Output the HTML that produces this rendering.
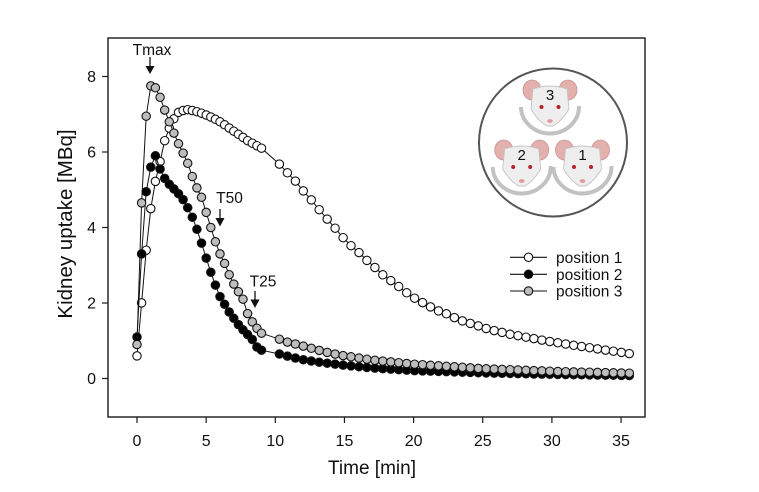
<!DOCTYPE html>
<html>
<head>
<meta charset="utf-8">
<style>
  html,body{margin:0;padding:0;background:#fff;}
  svg{display:block;}
  text{font-family:"Liberation Sans",Arial,sans-serif;fill:#111;}
</style>
</head>
<body>
<svg id="s" width="759" height="492" viewBox="0 0 759 492" xmlns="http://www.w3.org/2000/svg">
  <rect x="0" y="0" width="759" height="492" fill="#fff"/>
  <!-- frame -->
  <rect x="108" y="38" width="537" height="379" fill="none" stroke="#1a1a1a" stroke-width="1.4"/>
  <!-- x ticks -->
  <g stroke="#1a1a1a" stroke-width="1.2">
    <line x1="137" y1="417" x2="137" y2="423"/>
    <line x1="206.15" y1="417" x2="206.15" y2="423"/>
    <line x1="275.3" y1="417" x2="275.3" y2="423"/>
    <line x1="344.45" y1="417" x2="344.45" y2="423"/>
    <line x1="413.6" y1="417" x2="413.6" y2="423"/>
    <line x1="482.75" y1="417" x2="482.75" y2="423"/>
    <line x1="551.9" y1="417" x2="551.9" y2="423"/>
    <line x1="621.05" y1="417" x2="621.05" y2="423"/>
    <!-- y ticks -->
    <line x1="102" y1="378.5" x2="108" y2="378.5"/>
    <line x1="102" y1="303" x2="108" y2="303"/>
    <line x1="102" y1="227.5" x2="108" y2="227.5"/>
    <line x1="102" y1="152" x2="108" y2="152"/>
    <line x1="102" y1="76.5" x2="108" y2="76.5"/>
  </g>
  <g font-size="16" text-anchor="middle">
    <text x="137" y="446">0</text>
    <text x="206.15" y="446">5</text>
    <text x="275.3" y="446">10</text>
    <text x="344.45" y="446">15</text>
    <text x="413.6" y="446">20</text>
    <text x="482.75" y="446">25</text>
    <text x="551.9" y="446">30</text>
    <text x="621.05" y="446">35</text>
  </g>
  <g font-size="16" text-anchor="end">
    <text x="96" y="384">0</text>
    <text x="96" y="308.5">2</text>
    <text x="96" y="233">4</text>
    <text x="96" y="157.5">6</text>
    <text x="96" y="82">8</text>
  </g>
  <text x="372" y="474" font-size="19" text-anchor="middle">Time [min]</text>
  <text transform="translate(72,224) rotate(-90)" x="0" y="0" font-size="20.5" text-anchor="middle">Kidney uptake [MBq]</text>

  <!-- annotations -->
  <text x="152" y="55" font-size="15.5" text-anchor="middle">Tmax</text>
  <line x1="150" y1="57" x2="150" y2="68" stroke="#111" stroke-width="1.3"/>
  <polygon points="145.5,66 154.5,66 150,74" fill="#111"/>
  <text x="229.5" y="203" font-size="15.5" text-anchor="middle">T50</text>
  <line x1="220" y1="209" x2="220" y2="220" stroke="#111" stroke-width="1.3"/>
  <polygon points="215.5,218 224.5,218 220,226.5" fill="#111"/>
  <text x="263" y="286.5" font-size="15.5" text-anchor="middle">T25</text>
  <line x1="255" y1="291" x2="255" y2="301" stroke="#111" stroke-width="1.3"/>
  <polygon points="250.5,299.5 259.5,299.5 255,308" fill="#111"/>

  <!-- mice -->
  <circle cx="553" cy="142.5" r="74" fill="#fff" stroke="#555" stroke-width="2"/>
  <g id="mice"></g>

  <!-- legend -->
  <g stroke="#111" stroke-width="1.1">
    <line x1="510" y1="257.3" x2="547" y2="257.3"/>
    <line x1="510" y1="274.3" x2="547" y2="274.3"/>
    <line x1="510" y1="291" x2="547" y2="291"/>
    <circle cx="528.5" cy="257.3" r="4.2" fill="#fff"/>
    <circle cx="528.5" cy="274.3" r="4.2" fill="#000"/>
    <circle cx="528.5" cy="291" r="4.2" fill="#bdbdbd"/>
  </g>
  <g font-size="15.5">
    <text x="556" y="262.8">position 1</text>
    <text x="556" y="279.8">position 2</text>
    <text x="556" y="296.5">position 3</text>
  </g>

  <g id="series"></g>
</svg>
<script>
(function(){
  var NS="http://www.w3.org/2000/svg";
  function el(tag,attrs,parent){var e=document.createElementNS(NS,tag);for(var k in attrs)e.setAttribute(k,attrs[k]);parent.appendChild(e);return e;}
  var X=function(t){return 137+t*13.83;}, Y=function(v){return 378.5-v*37.75;};
  function interp(a,t){
    if(t<=a[0][0])return a[0][1];
    for(var i=0;i<a.length-1;i++){
      if(t>=a[i][0]&&t<=a[i+1][0]){var f=(t-a[i][0])/(a[i+1][0]-a[i][0]);return a[i][1]+f*(a[i+1][1]-a[i][1]);}
    }
    return a[a.length-1][1];
  }
  var grid=[];
  for(var i=0;i<=27;i++)grid.push(i/3);
  for(var k=0;k<=44;k++)grid.push(10.3+k*0.575);

  var p1=[[0,0.6],[0.333,2.0],[0.667,3.4],[1.0,4.5],[1.333,5.22],[1.667,5.75],[2.0,6.3],[2.333,6.63],[2.667,6.88],[3.0,7.05],[3.333,7.1],[3.667,7.12],[4.0,7.1],[4.5,7.05],[5.0,6.98],[5.5,6.9],[6.0,6.8],[6.5,6.68],[7.0,6.55],[7.5,6.43],[8.0,6.3],[8.5,6.2],[9.0,6.1],[10.3,5.68],[10.9,5.44],[11.5,5.21],[12.0,4.98],[12.6,4.73],[13.2,4.46],[13.8,4.2],[14.4,3.95],[14.9,3.73],[15.5,3.51],[16.1,3.32],[16.65,3.12],[17.2,2.94],[17.8,2.74],[18.4,2.58],[18.95,2.43],[19.5,2.27],[20.1,2.12],[20.65,2.01],[21.2,1.9],[21.8,1.79],[22.4,1.71],[22.9,1.62],[23.5,1.53],[24.1,1.46],[24.7,1.39],[25.2,1.33],[25.8,1.27],[27,1.17],[30,0.97],[33,0.8],[35.6,0.66]];
  var p2=[[0,1.1],[0.333,3.3],[0.667,4.95],[1.0,5.6],[1.333,5.9],[1.667,5.55],[1.9,5.35],[2.26,5.17],[2.62,5.04],[2.99,4.9],[3.35,4.73],[3.83,4.42],[4.19,4.11],[4.5,3.77],[4.79,3.45],[5.08,3.09],[5.4,2.74],[5.71,2.43],[6.0,2.17],[6.36,1.95],[6.72,1.73],[7.09,1.55],[7.45,1.37],[7.88,1.21],[8.29,1.06],[8.65,0.84],[9.0,0.75],[10.3,0.65],[11,0.58],[12,0.5],[13,0.44],[15,0.35],[17,0.28],[20,0.21],[25,0.15],[30,0.11],[35.6,0.08]];
  var p3=[[0,0.9],[0.333,4.65],[0.667,6.95],[1.0,7.75],[1.333,7.7],[1.667,7.45],[2.0,7.11],[2.333,6.8],[2.667,6.5],[3.0,6.22],[3.333,5.97],[3.667,5.7],[4.0,5.35],[4.333,5.05],[4.667,4.8],[5.0,4.4],[5.333,4.0],[5.667,3.62],[6.0,3.3],[6.333,3.05],[6.667,2.75],[7.0,2.5],[7.333,2.3],[7.667,2.1],[8.0,1.72],[8.333,1.5],[8.667,1.33],[9.0,1.2],[10.3,1.04],[10.8,0.97],[11.4,0.92],[12,0.86],[13,0.76],[14,0.67],[15,0.6],[17,0.49],[20,0.38],[25,0.26],[30,0.19],[35.6,0.14]];

  var g=document.getElementById("series");
  function draw(a,fill){
    var pts=grid.map(function(t){return [X(t),Y(interp(a,t))];});
    el("polyline",{points:pts.map(function(p){return p[0].toFixed(1)+","+p[1].toFixed(1);}).join(" "),fill:"none",stroke:"#111","stroke-width":"1"},g);
    pts.forEach(function(p){el("circle",{cx:p[0].toFixed(1),cy:p[1].toFixed(1),r:"4.2",fill:fill,stroke:"#111","stroke-width":"1.1"},g);});
  }
  draw(p1,"#fff");
  draw(p2,"#000");
  draw(p3,"#bdbdbd");

  var m=document.getElementById("mice");
  function mouse(cx,cy,num){
    el("path",{d:"M "+(cx-29)+" "+(cy+2)+" A 29 27 0 0 0 "+(cx+29)+" "+(cy+1),fill:"none",stroke:"#c2c2c2","stroke-width":"4"},m);
    el("ellipse",{cx:cx-18,cy:cy-15,rx:9,ry:10,fill:"#e4b0ae",stroke:"#c99391","stroke-width":"0.8"},m);
    el("ellipse",{cx:cx+18,cy:cy-15,rx:9,ry:10,fill:"#e4b0ae",stroke:"#c99391","stroke-width":"0.8"},m);
    el("path",{d:"M "+(cx-17)+" "+(cy-16)+" Q "+cx+" "+(cy-22)+" "+(cx+17)+" "+(cy-16)+" L "+(cx+19)+" "+(cy+4)+" Q "+(cx+12)+" "+(cy+16)+" "+(cx+3)+" "+(cy+21)+" L "+(cx-3)+" "+(cy+21)+" Q "+(cx-12)+" "+(cy+16)+" "+(cx-19)+" "+(cy+4)+" Z",fill:"#eeeeee",stroke:"#c4c4c4","stroke-width":"0.9"},m);
    el("circle",{cx:cx-8.5,cy:cy+2,r:2,fill:"#b5232a"},m);
    el("circle",{cx:cx+8.5,cy:cy+2,r:2,fill:"#b5232a"},m);
    el("ellipse",{cx:cx,cy:cy+16,rx:2.8,ry:1.9,fill:"#e39a9a"},m);
    var t=el("text",{x:cx,y:cy-5,"font-size":"15","text-anchor":"middle"},m);
    t.textContent=num;
  }
  mouse(550,105,"3");
  mouse(521.7,165,"2");
  mouse(582.5,165,"1");
})();
</script>
</body>
</html>
